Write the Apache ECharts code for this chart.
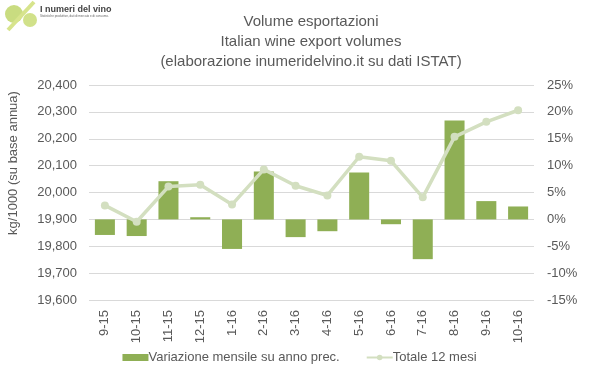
<!DOCTYPE html>
<html>
<head>
<meta charset="utf-8">
<script src="https://cdn.jsdelivr.net/npm/echarts@6/dist/echarts.min.js"></script>
<style>
html,body{margin:0;padding:0;background:#fff;}
#c{width:599px;height:378px;}
</style>
</head>
<body>
<div id="c"></div>
<script>
const categories = ['9-15','10-15','11-15','12-15','1-16','2-16','3-16','4-16','5-16','6-16','7-16','8-16','9-16','10-16'];
const variazione = [-2.9, -3.1, 7.1, 0.4, -5.5, 8.9, -3.3, -2.2, 8.7, -0.9, -7.4, 18.4, 3.4, 2.4];
const totale = [19952, 19891, 20022, 20029, 19955, 20086, 20025, 19989, 20133, 20118, 19982, 20207, 20263, 20306];
const titleLines = ['Volume esportazioni', 'Italian wine export volumes', '(elaborazione inumeridelvino.it su dati ISTAT)'];
const yLeftName = 'kg/1000 (su base annua)';

const font = '"Liberation Sans", Arial, sans-serif';
const grey = '#595959';
const chart = echarts.init(document.getElementById('c'), null, {renderer: 'canvas'});
chart.setOption({
  animation: false,
  textStyle: {fontFamily: font},
  title: {
    text: titleLines.join('\n'),
    left: 306, top: 7, textAlign: 'center',
    textStyle: {fontFamily: font, fontSize: 15, fontWeight: 'normal', color: grey, lineHeight: 20}
  },
  grid: {left: 89, right: 65, top: 85, bottom: 78},
  legend: {
    bottom: 9, left: 'center',
    itemWidth: 26, itemHeight: 7, itemGap: 26,
    textStyle: {fontFamily: font, fontSize: 13, color: grey, padding: [0,0,0,-5]},
    data: [
      {name: 'Variazione mensile su anno prec.', icon: 'rect'},
      {name: 'Totale 12 mesi'}
    ]
  },
  xAxis: {
    type: 'category', data: categories,
    axisLine: {show: false}, axisTick: {show: false},
    axisLabel: {rotate: 90, fontSize: 13, color: grey, margin: 10, fontFamily: font}
  },
  yAxis: [
    {
      type: 'value', min: 19600, max: 20400, interval: 100,
      axisLabel: {fontSize: 13, color: grey, margin: 12, fontFamily: font,
        formatter: v => v.toLocaleString('en-US')},
      splitLine: {lineStyle: {color: '#D9D9D9', width: 1}},
      axisLine: {show: false}, axisTick: {show: false}
    },
    {
      type: 'value', min: -15, max: 25, interval: 5,
      axisLabel: {fontSize: 13, color: grey, margin: 13, fontFamily: font, formatter: v => v + '%'},
      splitLine: {show: false},
      axisLine: {show: false}, axisTick: {show: false}
    }
  ],
  graphic: [
    {type: 'text', x: 13, y: 163, rotation: Math.PI/2,
     style: {text: yLeftName, fill: grey, font: '13px ' + font, align: 'center', verticalAlign: 'middle', x: 0, y: 0}},
    {type: 'circle', shape: {cx: 14, cy: 14, r: 9}, style: {fill: '#BFD66A', opacity: 0.85}},
    {type: 'circle', shape: {cx: 30, cy: 20, r: 7}, style: {fill: '#C9DC76', opacity: 0.85}},
    {type: 'line', shape: {x1: 8, y1: 30, x2: 34, y2: 2}, style: {stroke: '#D7E48C', lineWidth: 4}},
    {type: 'text', left: 40, top: 5, style: {text: 'I numeri del vino', fill: '#444', font: 'bold 9px ' + font}},
    {type: 'text', left: 40, top: 15, style: {text: 'Statistiche produttive, dati di mercato e di consumo.', fill: '#666', font: '3px ' + font}}
  ],
  series: [
    {
      name: 'Variazione mensile su anno prec.', type: 'bar', yAxisIndex: 1,
      data: variazione, barCategoryGap: '37%',
      itemStyle: {color: '#8FAF55'}
    },
    {
      name: 'Totale 12 mesi', type: 'line', yAxisIndex: 0,
      data: totale, symbol: 'circle', symbolSize: 8,
      lineStyle: {color: '#D3DFC0', width: 3.5},
      itemStyle: {color: '#D3DFC0'}
    }
  ]
});
</script>
</body>
</html>
